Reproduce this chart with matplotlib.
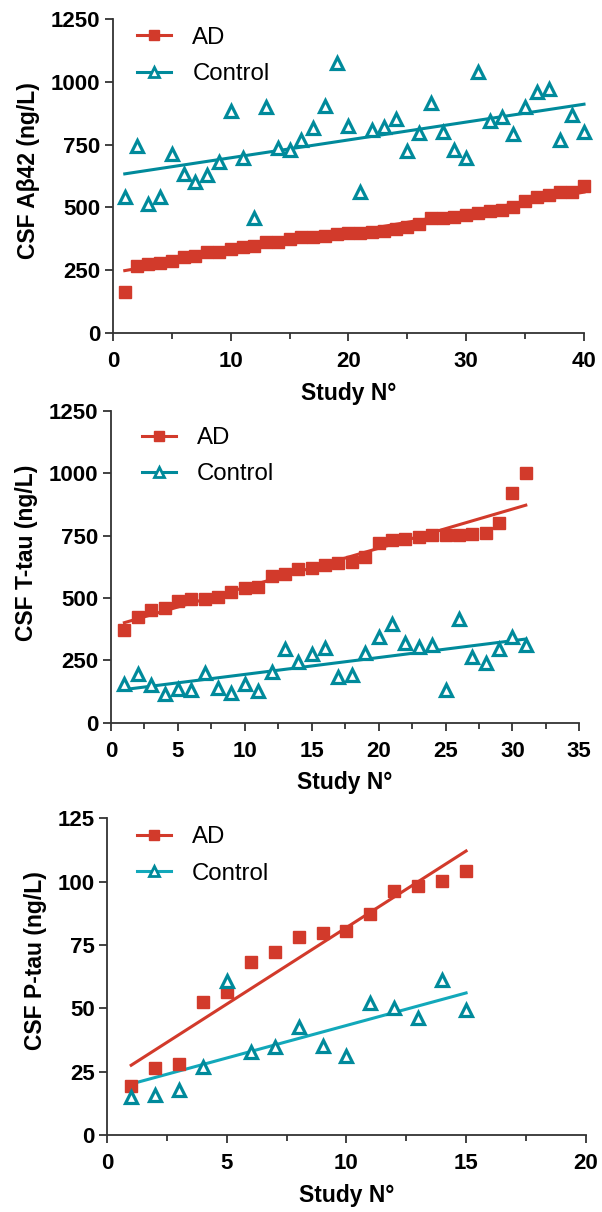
import numpy as np
import matplotlib
matplotlib.use("Agg")
import matplotlib.pyplot as plt
from matplotlib.lines import Line2D
from matplotlib.ticker import MultipleLocator

plt.rcParams['font.family'] = ['Liberation Sans', 'DejaVu Sans']

RED = '#d23a2b'
TEAL = '#008a9b'

# Abeta42 panel
ab_x = np.arange(1, 41)
ab_ad = [162, 267, 275, 280, 288, 301, 308, 321, 324, 333,
         341, 348, 361, 364, 374, 381, 383, 386, 393, 397,
         397, 401, 407, 413, 423, 433, 457, 459, 463, 470,
         479, 486, 490, 500, 525, 543, 549, 560, 563, 586]
ab_ctrl = [541, 746, 513, 543, 712, 633, 600, 629, 680, 884,
           695, 456, 901, 738, 729, 768, 815, 905, 1073, 824,
           560, 808, 819, 852, 724, 797, 914, 801, 729, 695,
           1040, 846, 862, 791, 901, 961, 970, 768, 868, 801]

# T-tau panel
tt_x = np.arange(1, 32)
tt_ad = [371, 425, 451, 458, 487, 494, 495, 502, 525, 541,
         545, 588, 596, 614, 618, 632, 638, 644, 665, 722,
         732, 738, 745, 752, 754, 754, 758, 761, 801, 919, 999]
tt_ctrl = [155, 195, 151, 115, 135, 131, 200, 138, 120, 154,
           128, 202, 294, 244, 275, 298, 184, 191, 278, 342,
           395, 318, 304, 311, 131, 415, 264, 238, 295, 345, 311]

# P-tau panel
pt_x = np.arange(1, 16)
pt_ad = [19.3, 26.3, 28.0, 52.4, 56.3, 68.4, 72.1, 78.0, 79.6, 80.6,
         87.1, 96.4, 98.4, 100.4, 104.2]
pt_ctrl = [14.9, 15.8, 17.8, 26.7, 60.9, 32.9, 34.9, 42.8, 35.1, 31.2,
           52.2, 50.0, 46.1, 61.2, 49.3]

fig = plt.figure(figsize=(6.02, 12.12), dpi=100)

panels = [
    dict(rect=[0.1877, 0.7252, 0.7824, 0.2591], x=ab_x, ad=ab_ad, ctrl=ab_ctrl,
         xlim=40, xmaj=10, xmin=5, ylim=1250, ymaj=250,
         ylabel='CSF A\u03b242 (ng/L)', ylab_y=0.516, ctrl_line=TEAL,
         leg=(0.051, 0.975)),
    dict(rect=[0.1844, 0.4037, 0.7779, 0.2574], x=tt_x, ad=tt_ad, ctrl=tt_ctrl,
         xlim=35, xmaj=5, xmin=2.5, ylim=1250, ymaj=250,
         ylabel='CSF T-tau (ng/L)', ylab_y=0.545, ctrl_line=TEAL,
         leg=(0.066, 0.948)),
    dict(rect=[0.1782, 0.0635, 0.7947, 0.2613], x=pt_x, ad=pt_ad, ctrl=pt_ctrl,
         xlim=20, xmaj=5, xmin=2.5, ylim=125, ymaj=25,
         ylabel='CSF P-tau (ng/L)', ylab_y=0.55, ctrl_line='#12a8ba',
         leg=(0.062, 0.975)),
]

for p in panels:
    ax = fig.add_axes(p['rect'])
    x = p['x']
    # regression lines
    for vals, col in [(p['ad'], RED), (p['ctrl'], p['ctrl_line'])]:
        k, b = np.polyfit(x, vals, 1)
        ax.plot([x[0], x[-1]], [k * x[0] + b, k * x[-1] + b], color=col, lw=2.2,
                zorder=2, clip_on=False)
    ax.plot(x, p['ad'], 's', color=RED, ms=8, mec=RED, zorder=3, clip_on=False)
    ax.plot(x, p['ctrl'], '^', ms=8.5, mfc='white', mec=TEAL, mew=2.3,
            zorder=3, clip_on=False)

    ax.set_xlim(0, p['xlim'])
    ax.set_ylim(0, p['ylim'])
    ax.xaxis.set_major_locator(MultipleLocator(p['xmaj']))
    ax.xaxis.set_minor_locator(MultipleLocator(p['xmin']))
    ax.yaxis.set_major_locator(MultipleLocator(p['ymaj']))
    for s in ['top', 'right']:
        ax.spines[s].set_visible(False)
    for s in ['left', 'bottom']:
        ax.spines[s].set_color('#333333')
        ax.spines[s].set_linewidth(1.3)
    ax.tick_params(which='major', length=6, width=1.3, color='#333333',
                   labelsize=16)
    ax.tick_params(axis='x', which='major', pad=7)
    ax.tick_params(axis='y', which='major', pad=3)
    ax.tick_params(which='minor', length=4.5, width=1.3, color='#333333')
    for lab in ax.get_xticklabels() + ax.get_yticklabels():
        lab.set_fontweight('bold')
    ax.set_xlabel('Study N\u00b0', fontsize=16.5, fontweight='bold', labelpad=7)
    ax.set_ylabel(p['ylabel'], fontsize=16.5, fontweight='bold', labelpad=8)
    ax.yaxis.label.set_y(p['ylab_y'])

    handles = [
        Line2D([], [], color=RED, lw=2.2, marker='s', ms=7, mec=RED),
        Line2D([], [], color=p['ctrl_line'], lw=2.2, marker='^', ms=7,
               mfc='white', mec=TEAL, mew=2),
    ]
    ax.legend(handles, ['AD', 'Control'], loc='upper left', frameon=False,
              fontsize=17.3, handlelength=1.4, handletextpad=0.9,
              labelspacing=0.6, borderaxespad=0, borderpad=0,
              bbox_to_anchor=p['leg'])

fig.savefig('out.png', dpi=100)
